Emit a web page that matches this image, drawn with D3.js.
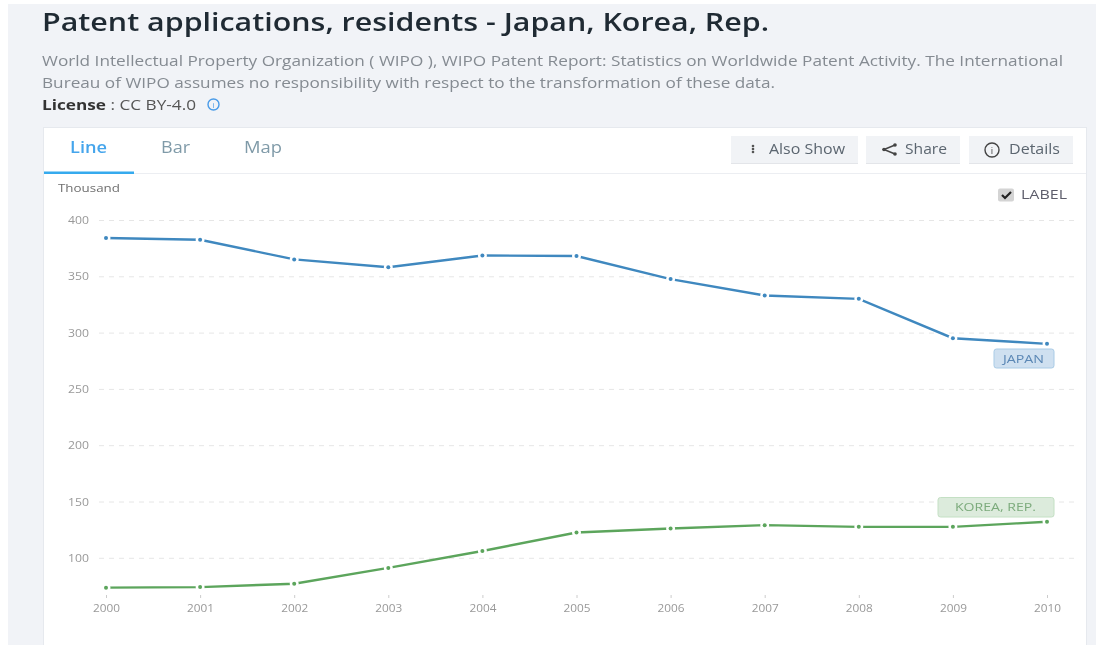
<!DOCTYPE html>
<html>
<head>
<meta charset="utf-8">
<title>Patent applications, residents</title>
<script src="https://cdn.jsdelivr.net/npm/d3@7"></script>
<style>
  html, body { margin: 0; padding: 0; background: #fff; overflow: hidden; }
  svg { display: block; font-family: "Open Sans", sans-serif; }
  .blurry { filter: blur(0.7px); }
</style>
</head>
<body>
<svg id="chart" width="1096" height="645"></svg>
<script>
var years = [2000, 2001, 2002, 2003, 2004, 2005, 2006, 2007, 2008, 2009, 2010]
var japan = [384, 382.5, 365, 358, 368.5, 368, 347.5, 333, 330, 295, 290]
var korea = [73.5, 74, 77, 91, 106, 122.5, 126, 129, 127.5, 127.5, 132]
var yTicks = [100, 150, 200, 250, 300, 350, 400]
var descLines = [
    "World Intellectual Property Organization ( WIPO ), WIPO Patent Report: Statistics on Worldwide Patent Activity. The International",
    "Bureau of WIPO assumes no responsibility with respect to the transformation of these data."
]
var descWidths = [1021, 733]

var svg = d3.select("#chart")
var root = svg.append("g").attr("class", "blurry")

// the screenshot is stretched sideways, so text gets its measured width
function fit(sel, len) {
    return sel.attr("textLength", len).attr("lengthAdjust", "spacingAndGlyphs")
}

// page background and card
root.append("rect").attr("x", 8).attr("y", 4).attr("width", 1088).attr("height", 641).attr("fill", "#f1f3f7")
root.append("rect").attr("x", 43.5).attr("y", 127.5).attr("width", 1043).attr("height", 530)
    .attr("fill", "#fff").attr("stroke", "#e6e9ee")

// header text
fit(root.append("text").attr("x", 42).attr("y", 31).attr("font-size", 26).attr("font-weight", 600)
    .attr("fill", "#1f2a33")
    .text("Patent applications, residents - Japan, Korea, Rep."), 727)

root.selectAll(".desc").data(descLines).enter().append("text")
    .attr("class", "desc")
    .attr("x", 42)
    .attr("y", (d, i) => 65.5 + i * 22)
    .attr("font-size", 14.5)
    .attr("fill", "#858b92")
    .attr("textLength", (d, i) => descWidths[i])
    .attr("lengthAdjust", "spacingAndGlyphs")
    .text(d => d)

var lic = root.append("text").attr("x", 42).attr("y", 110).attr("font-size", 14.5).attr("fill", "#333")
lic.append("tspan").attr("font-weight", 700).text("License")
lic.append("tspan").attr("fill", "#555").text(" : CC BY-4.0")
fit(lic, 154)
root.append("circle").attr("cx", 213.5).attr("cy", 104.5).attr("r", 5.5).attr("fill", "none").attr("stroke", "#4a9be8").attr("stroke-width", 1.4)
root.append("text").attr("x", 213.5).attr("y", 107.5).attr("text-anchor", "middle").attr("font-size", 8).attr("fill", "#4a9be8").text("i")

// tabs
root.append("line").attr("x1", 44).attr("x2", 1086).attr("y1", 173.5).attr("y2", 173.5).attr("stroke", "#eceef2")
root.append("rect").attr("x", 44).attr("y", 171.5).attr("width", 90).attr("height", 2.5).attr("fill", "#35aaee")
fit(root.append("text").attr("x", 70).attr("y", 152.5).attr("font-size", 16).attr("font-weight", 600).attr("fill", "#45a5ec").text("Line"), 37)
fit(root.append("text").attr("x", 161).attr("y", 152.5).attr("font-size", 16).attr("fill", "#7f9aa8").text("Bar"), 29)
fit(root.append("text").attr("x", 244).attr("y", 152.5).attr("font-size", 16).attr("fill", "#7f9aa8").text("Map"), 38)

// buttons
var buttons = root.append("g")
function button(x, w, label, tx, tw) {
    buttons.append("rect").attr("x", x).attr("y", 136).attr("width", w).attr("height", 28).attr("fill", "#f1f3f6")
    buttons.append("rect").attr("x", x).attr("y", 163).attr("width", w).attr("height", 1).attr("fill", "#e3e5e9")
    fit(buttons.append("text").attr("x", tx).attr("y", 154).attr("font-size", 14.5).attr("fill", "#5c6670").text(label), tw)
}
button(731, 127, "Also Show", 769, 76)
button(866, 94, "Share", 905, 42)
button(969, 104, "Details", 1009, 51)
buttons.selectAll(".dot3").data([146, 149, 152]).enter().append("circle").attr("cx", 753).attr("cy", d => d).attr("r", 1.3).attr("fill", "#555")
// share icon
buttons.append("path").attr("d", "M895 145 L884 149.5 L895 154").attr("fill", "none").attr("stroke", "#444").attr("stroke-width", 1.5)
buttons.selectAll(".share").data([[895, 145], [884, 149.5], [895, 154]]).enter().append("circle")
    .attr("cx", d => d[0]).attr("cy", d => d[1]).attr("r", 1.8).attr("fill", "#444")
// details icon
buttons.append("circle").attr("cx", 992).attr("cy", 150).attr("r", 7).attr("fill", "none").attr("stroke", "#444").attr("stroke-width", 1.4)
buttons.append("text").attr("x", 992).attr("y", 153.5).attr("text-anchor", "middle").attr("font-size", 9.5).attr("fill", "#444").text("i")

// checkbox
root.append("rect").attr("x", 998).attr("y", 188.5).attr("width", 16).attr("height", 13).attr("rx", 2).attr("fill", "#d4d4d4")
root.append("path").attr("d", "M1002 195 L1005 198 L1011 192").attr("fill", "none").attr("stroke", "#222").attr("stroke-width", 2.2)
fit(root.append("text").attr("x", 1021).attr("y", 199).attr("font-size", 13).attr("fill", "#5d5d6b").text("LABEL"), 46)

// chart
var x = d3.scalePoint().domain(years).range([106, 1047])
var y = d3.scaleLinear().domain([100, 400]).range([557.8, 220])

fit(root.append("text").attr("x", 58).attr("y", 191.5).attr("font-size", 11.5).attr("fill", "#6f6f6f").text("Thousand"), 62)

var yAxis = d3.axisLeft(y).tickValues(yTicks).tickSize(-(1074 - 99)).tickPadding(10)
var yG = root.append("g").attr("transform", "translate(99,0)").call(yAxis)
yG.select(".domain").remove()
yG.selectAll("line").attr("stroke", "#e6e6e6").attr("stroke-dasharray", "5 5")
yG.selectAll("text").attr("font-size", 11.5).attr("font-family", "Open Sans").attr("fill", "#999")
    .attr("textLength", 21).attr("lengthAdjust", "spacingAndGlyphs")

var xAxis = d3.axisBottom(x).tickSize(3).tickPadding(6).tickFormat(d3.format("d"))
var xG = root.append("g").attr("transform", "translate(0,595)").call(xAxis)
xG.select(".domain").remove()
xG.selectAll("line").attr("stroke", "#ccc")
xG.selectAll("text").attr("font-size", 11).attr("font-family", "Open Sans").attr("fill", "#999")
    .attr("textLength", 27).attr("lengthAdjust", "spacingAndGlyphs")

var line = d3.line().x((d, i) => x(years[i])).y(d => y(d))
var series = [
    { values: japan, color: "#3f88bf" },
    { values: korea, color: "#5ca55c" }
]
series.forEach(function (s) {
    root.append("path").attr("d", line(s.values)).attr("fill", "none").attr("stroke", s.color).attr("stroke-width", 2.4)
    root.selectAll(null).data(s.values).enter().append("circle")
        .attr("cx", (d, i) => x(years[i]))
        .attr("cy", d => y(d))
        .attr("r", 2)
        .attr("fill", s.color)
        .attr("stroke", "#fff")
        .attr("stroke-width", 5)
        .attr("paint-order", "stroke")
})

// series labels
root.append("rect").attr("x", 994).attr("y", 349).attr("width", 60).attr("height", 19).attr("rx", 2.5)
    .attr("fill", "#cfe0f0").attr("stroke", "#a9cbe6")
fit(root.append("text").attr("x", 1003).attr("y", 363).attr("font-size", 11.5).attr("fill", "#5b87b5").text("JAPAN"), 41)
root.append("rect").attr("x", 938).attr("y", 497.5).attr("width", 116).attr("height", 19.5).attr("rx", 2.5)
    .attr("fill", "#dcebdc").attr("stroke", "#c4e0c4")
fit(root.append("text").attr("x", 955).attr("y", 511).attr("font-size", 11.5).attr("fill", "#7cab7c").text("KOREA, REP."), 81)
</script>
</body>
</html>
